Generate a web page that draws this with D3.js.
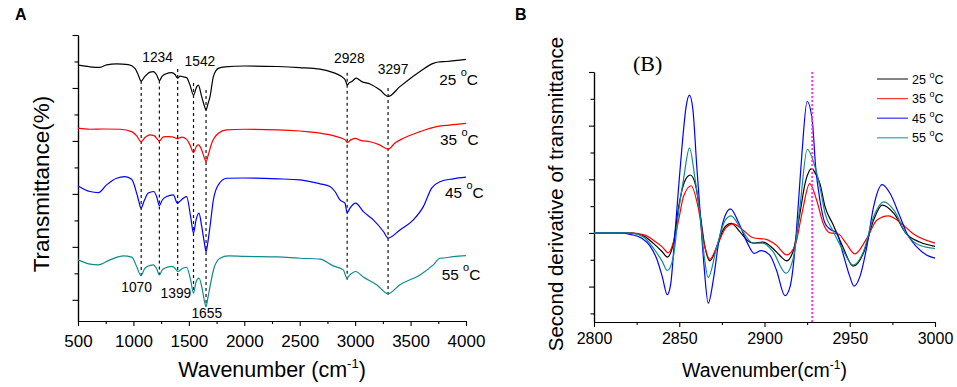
<!DOCTYPE html>
<html>
<head>
<meta charset="utf-8">
<script src="https://cdn.jsdelivr.net/npm/d3@7"></script>
<style>
  body { margin: 0; background: #fff; }
  svg { display: block; font-family: "Liberation Sans", Arial, sans-serif; }
</style>
</head>
<body>
<svg id="canvas" width="957" height="387"></svg>
<script>
// ---- data ----
const temps = ["25", "35", "45", "55"];

// panel A: FTIR spectra, [wavenumber, transmittance (offset, a.u.)]
const ftir25 = [[500,9.86],[608,9.80],[698,9.78],[758,9.87],[848,9.91],[954,9.88],[1014,9.74],[1040,9.53],[1070,9.26],[1100,9.42],[1150,9.60],[1180,9.62],[1210,9.49],[1234,9.28],[1260,9.45],[1290,9.53],[1345,9.58],[1375,9.51],[1399,9.37],[1420,9.45],[1450,9.42],[1480,9.39],[1510,9.11],[1542,8.73],[1570,9.04],[1585,9.11],[1616,8.67],[1640,8.32],[1655,8.17],[1672,8.40],[1691,8.67],[1721,9.43],[1766,9.74],[1826,9.80],[2000,9.83],[2300,9.81],[2500,9.77],[2683,9.71],[2803,9.58],[2870,9.45],[2910,9.30],[2930,9.11],[2945,9.19],[2970,9.24],[3009,9.37],[3060,9.24],[3134,9.15],[3225,8.92],[3297,8.68],[3404,9.05],[3585,9.62],[3705,9.93],[3750,9.98],[3825,10.0],[4000,10.08]];
const ftir35 = [[500,7.48],[608,7.44],[729,7.45],[879,7.44],[984,7.35],[1030,7.19],[1068,6.97],[1110,7.15],[1149,7.23],[1190,7.19],[1234,7.00],[1270,7.15],[1300,7.16],[1350,7.15],[1399,7.09],[1435,7.14],[1480,7.06],[1510,6.85],[1542,6.56],[1570,6.81],[1585,6.85],[1616,6.66],[1640,6.36],[1655,6.22],[1675,6.47],[1706,6.91],[1766,7.29],[1841,7.42],[2000,7.44],[2300,7.42],[2654,7.31],[2833,7.16],[2910,7.04],[2930,6.94],[2960,7.04],[2999,7.10],[3050,7.02],[3134,6.97],[3220,6.85],[3297,6.69],[3360,6.92],[3435,7.10],[3585,7.35],[3735,7.54],[3850,7.60],[4000,7.66]];
const ftir45 = [[500,5.30],[608,5.09],[683,5.05],[758,5.34],[848,5.59],[923,5.65],[984,5.55],[1029,5.03],[1050,4.70],[1068,4.46],[1100,4.77],[1134,5.03],[1183,5.09],[1210,4.89],[1234,4.56],[1260,4.77],[1300,4.90],[1360,4.96],[1396,4.65],[1450,4.84],[1480,4.90],[1516,4.14],[1542,3.52],[1565,4.02],[1591,4.27],[1616,3.77],[1640,3.15],[1655,2.82],[1672,3.19],[1691,3.77],[1721,4.77],[1766,5.34],[1841,5.59],[2000,5.60],[2300,5.57],[2502,5.53],[2683,5.38],[2773,5.28],[2818,5.09],[2863,4.77],[2908,4.65],[2928,4.29],[2953,4.46],[3004,4.65],[3074,4.33],[3164,4.02],[3255,3.58],[3297,3.33],[3404,3.64],[3525,4.02],[3615,4.52],[3690,5.22],[3765,5.46],[3885,5.57],[4000,5.63]];
const ftir55 = [[500,2.51],[608,2.35],[683,2.32],[789,2.51],[909,2.66],[984,2.61],[1029,2.26],[1068,1.91],[1100,2.17],[1125,2.26],[1179,2.32],[1210,2.17],[1234,1.94],[1260,2.13],[1285,2.20],[1345,2.26],[1375,2.19],[1399,2.07],[1450,2.20],[1480,2.23],[1516,1.75],[1542,1.25],[1565,1.68],[1591,1.82],[1622,1.38],[1640,0.96],[1655,0.75],[1672,1.08],[1691,1.50],[1727,2.20],[1781,2.57],[1856,2.66],[2000,2.64],[2300,2.62],[2502,2.57],[2683,2.54],[2803,2.28],[2893,2.13],[2925,1.82],[2953,1.94],[3004,2.07],[3074,1.86],[3194,1.57],[3297,1.23],[3404,1.57],[3585,1.94],[3705,2.32],[3765,2.57],[3800,2.58],[3885,2.63],[4000,2.67]];

// marked bands and the span of their guide lines
const peaks = [1070, 1234, 1399, 1542, 1655, 2928, 3297];
const peakTop = [9.26, 9.28, 9.72, 9.19, 8.92, 9.57, 9.0];
const peakBottom = [1.91, 1.94, 1.75, 1.25, 0.75, 1.75, 1.19];

const ftirTicks = [500, 1000, 1500, 2000, 2500, 3000, 3500, 4000];

// panel B: second derivative, [wavenumber, value]
const deriv25 = [[2800,0],[2820,0],[2826,-0.02],[2830,-0.07],[2835,-0.2],[2840,-0.35],[2843,-0.45],[2846.5,-0.2],[2850,0.55],[2853,0.95],[2856.5,1.08],[2859.5,0.9],[2862.5,0.3],[2865,-0.25],[2868,-0.52],[2871,-0.35],[2874,-0.07],[2877,0.12],[2880.5,0.18],[2885.6,0.02],[2890,-0.14],[2893.4,-0.19],[2899,-0.17],[2905,-0.29],[2909,-0.42],[2913,-0.52],[2917,-0.32],[2920.8,0.37],[2924,0.95],[2927.7,1.2],[2930,1.1],[2932.5,0.92],[2935.5,0.49],[2940,0.17],[2946,-0.26],[2952,-0.62],[2958,-0.38],[2964,0.24],[2969,0.52],[2976,0.36],[2983,-0.01],[2991,-0.17],[3000,-0.25]];
const deriv35 = [[2800,0],[2820,0],[2830,-0.04],[2835,-0.14],[2840,-0.26],[2843.5,-0.37],[2847.5,-0.07],[2850,0.3],[2852.4,0.67],[2857,0.88],[2861,0.49],[2865,-0.26],[2868,-0.49],[2872,-0.26],[2877,0.08],[2881.7,0.17],[2887.5,0.05],[2893.4,-0.09],[2901,-0.12],[2907,-0.23],[2913,-0.41],[2918,-0.23],[2922,0.37],[2926.5,0.92],[2930.6,0.61],[2934.5,0.17],[2938.4,0],[2943.3,-0.02],[2948,-0.2],[2953,-0.39],[2960,-0.1],[2966,0.24],[2972.6,0.32],[2979.5,0.2],[2987,-0.01],[3000,-0.19]];
const deriv45 = [[2800,0],[2815,0],[2822,-0.03],[2828,-0.1],[2833,-0.25],[2837,-0.5],[2840,-0.81],[2843,-1.15],[2845,-0.95],[2847.5,0],[2850,1.0],[2852,1.75],[2854,2.35],[2856,2.57],[2858,2.3],[2860.3,1.23],[2862,0.5],[2864.5,-0.6],[2867,-1.31],[2870,-0.87],[2873,-0.2],[2876,0.24],[2880,0.45],[2885,0.18],[2890,-0.19],[2894,-0.38],[2898,-0.33],[2903,-0.41],[2907,-0.69],[2912,-1.17],[2915,-1.0],[2918,-0.25],[2920,0.61],[2922,1.5],[2925,2.45],[2928,2.1],[2930,1.23],[2932.5,0.61],[2935.5,0.18],[2938.5,0.07],[2942.4,0],[2946,-0.38],[2950,-0.81],[2952.5,-0.99],[2956,-0.81],[2960,-0.26],[2964,0.49],[2969,0.9],[2973.6,0.74],[2979.5,0.3],[2983.4,0],[2989,-0.25],[2995,-0.41],[3000,-0.47]];
const deriv55 = [[2800,0],[2820,0],[2826,-0.03],[2830,-0.1],[2835,-0.29],[2840,-0.53],[2843,-0.7],[2846.5,-0.45],[2850,0.49],[2852.5,1.0],[2856,1.58],[2859.3,1.0],[2862,0.4],[2864.5,-0.4],[2867,-0.83],[2872,-0.26],[2877,0.24],[2880.4,0.32],[2885.6,0.11],[2893.4,-0.19],[2899,-0.19],[2905,-0.35],[2912.6,-0.75],[2917,-0.45],[2920.8,0.49],[2925.1,1.56],[2929,1.3],[2932.5,0.86],[2935.5,0.37],[2940,0.05],[2946,-0.32],[2952,-0.6],[2958,-0.35],[2964,0.3],[2970,0.58],[2976,0.42],[2983,-0.01],[2991,-0.23],[3000,-0.29]];

const derivTicks = [2800, 2850, 2900, 2950, 3000];
const markedBand = 2928;

// ---- styling ----
const colors = ["#000000", "#ff0000", "#0000ff", "#0f8b8d"];

const svg = d3.select('#canvas');
const plain = d3.format('d');

// small helper: number + superscript "o" + "C"
function tempLabel(sel, t, size, supSize, rise) {
  sel.style('font-size', size + 'px');
  sel.append('tspan').text(t + ' ');
  sel.append('tspan').attr('dy', -rise).style('font-size', supSize + 'px').text('o');
  sel.append('tspan').attr('dy', rise).text('C');
}

function styleAxis(g, size) {
  g.attr('font-family', null);
  g.select('.domain').attr('stroke', '#000').attr('stroke-width', 1.2);
  g.selectAll('.tick line').attr('stroke', '#000').attr('stroke-width', 1.1);
  g.selectAll('.tick text').attr('fill', '#000').style('font-size', size + 'px');
}

// ================= panel A =================
const pa = { left: 78, right: 466, top: 35, bottom: 321 };
const xA = d3.scaleLinear().domain([500, 4000]).range([pa.left, pa.right]);
const yA = d3.scaleLinear().domain([0.2, 11]).range([pa.bottom, pa.top]);
const gA = svg.append('g');

gA.append('g').attr('transform', `translate(0,${pa.bottom})`)
  .call(d3.axisBottom(xA).tickValues(d3.range(750, 4000, 500)).tickSize(3).tickFormat('').tickSizeOuter(0))
  .call(g => styleAxis(g, 17));
gA.append('g').attr('transform', `translate(0,${pa.bottom})`)
  .call(d3.axisBottom(xA).tickValues(ftirTicks).tickFormat(plain).tickSize(5).tickPadding(8.5).tickSizeOuter(0))
  .call(g => styleAxis(g, 17));
gA.append('g').attr('transform', `translate(${pa.left},0)`)
  .call(d3.axisLeft(yA).tickValues([2, 4, 6, 8, 10]).tickSize(3.5).tickFormat('').tickSizeOuter(0))
  .call(g => styleAxis(g, 17));
gA.append('g').attr('transform', `translate(${pa.left},0)`)
  .call(d3.axisLeft(yA).tickValues([1, 3, 5, 7, 9, 11]).tickSize(5.5).tickFormat('').tickSizeOuter(0))
  .call(g => styleAxis(g, 17));

const lineA = d3.line().x(d => xA(d[0])).y(d => yA(d[1])).curve(d3.curveMonotoneX);
const ftir = [ftir25, ftir35, ftir45, ftir55];

gA.append('g').selectAll('line')
  .data(peaks)
  .join('line')
  .attr('x1', d => xA(d)).attr('x2', d => xA(d))
  .attr('y1', (d, i) => yA(peakTop[i]))
  .attr('y2', (d, i) => yA(peakBottom[i]))
  .attr('stroke', '#111').attr('stroke-width', 1.2)
  .attr('stroke-dasharray', '3,3');

gA.append('g').selectAll('path')
  .data(ftir)
  .join('path')
  .attr('d', lineA)
  .attr('fill', 'none')
  .attr('stroke', (d, i) => colors[i])
  .attr('stroke-width', 1.2);

// band labels: which end of the guide and nudge in px
const peakLabelLayout = [
  { end: 'bottom', dx: -4.6, dy: 16.7 },
  { end: 'top', dx: -1.8, dy: -18.6 },
  { end: 'bottom', dx: -1.7, dy: 18.3 },
  { end: 'top', dx: 6.4, dy: -17 },
  { end: 'bottom', dx: 0.7, dy: 11.3 },
  { end: 'top', dx: 2.2, dy: -9.6 },
  { end: 'top', dx: 5, dy: -14 },
];
gA.append('g').selectAll('text')
  .data(peaks)
  .join('text')
  .attr('x', (d, i) => xA(d) + peakLabelLayout[i].dx)
  .attr('y', (d, i) => yA(peakLabelLayout[i].end === 'top' ? peakTop[i] : peakBottom[i]) + peakLabelLayout[i].dy)
  .attr('text-anchor', 'middle')
  .style('font-size', '13.8px')
  .text(d => d);

// temperature tags at the right end of each spectrum
const tagNudge = [[-26.7, 25.5], [-26, 21.5], [-21, 21], [-24.3, 24.3]];
ftir.forEach((s, i) => {
  const last = s[s.length - 1];
  gA.append('text')
    .attr('x', xA(last[0]) + tagNudge[i][0])
    .attr('y', yA(last[1]) + tagNudge[i][1])
    .call(t => tempLabel(t, temps[i], 15.4, 11, 9));
});

gA.append('text')
  .attr('transform', 'translate(48.5,184) rotate(-90)')
  .attr('text-anchor', 'middle')
  .style('font-size', '22.5px')
  .text('Transmittance(%)');

const xtA = gA.append('text')
  .attr('x', (pa.left + pa.right) / 2).attr('y', 376.7)
  .attr('text-anchor', 'middle')
  .style('font-size', '21.5px');
xtA.append('tspan').text('Wavenumber (cm');
xtA.append('tspan').attr('dy', -9).style('font-size', '13px').text('-1');
xtA.append('tspan').attr('dy', 9).text(')');

gA.append('text').attr('x', 15).attr('y', 20)
  .style('font-size', '16px').style('font-weight', 'bold').text('A');

// ================= panel B =================
const pb = { left: 594, right: 935, top: 72, bottom: 322 };
const xB = d3.scaleLinear().domain([2800, 3000]).range([pb.left, pb.right]);
const yB = d3.scaleLinear().domain([-1.66, 3]).range([pb.bottom, pb.top]);
const gB = svg.append('g');

gB.append('g').attr('transform', `translate(0,${pb.bottom})`)
  .call(d3.axisBottom(xB).tickValues([2825, 2875, 2925, 2975]).tickSize(3).tickFormat('').tickSizeOuter(0))
  .call(g => styleAxis(g, 16));
gB.append('g').attr('transform', `translate(0,${pb.bottom})`)
  .call(d3.axisBottom(xB).tickValues(derivTicks).tickFormat(plain).tickSize(5).tickPadding(5.5).tickSizeOuter(0))
  .call(g => styleAxis(g, 16));
gB.append('g').attr('transform', `translate(${pb.left},0)`)
  .call(d3.axisLeft(yB).tickValues([-1.5, -0.5, 0.5, 1.5, 2.5]).tickSize(3.5).tickFormat('').tickSizeOuter(0))
  .call(g => styleAxis(g, 16));
gB.append('g').attr('transform', `translate(${pb.left},0)`)
  .call(d3.axisLeft(yB).tickValues([-1, 0, 1, 2, 3]).tickSize(5).tickFormat('').tickSizeOuter(0))
  .call(g => styleAxis(g, 16));

const lineB = d3.line().x(d => xB(d[0])).y(d => yB(d[1])).curve(d3.curveMonotoneX);

gB.append('g').selectAll('path')
  .data([deriv25, deriv35, deriv45, deriv55])
  .join('path')
  .attr('d', lineB)
  .attr('fill', 'none')
  .attr('stroke', (d, i) => colors[i])
  .attr('stroke-width', 1.2);

gB.append('line')
  .attr('x1', xB(markedBand)).attr('x2', xB(markedBand))
  .attr('y1', yB(3)).attr('y2', yB(-1.66))
  .attr('stroke', '#f03cf0').attr('stroke-width', 2)
  .attr('stroke-dasharray', '2,2');

// legend
const leg = gB.append('g').attr('transform', 'translate(877,79)');
temps.forEach((t, i) => {
  const row = leg.append('g').attr('transform', `translate(0,${i * 19.6})`);
  row.append('line').attr('x1', 0).attr('x2', 31)
    .attr('stroke', colors[i]).attr('stroke-width', 1.3).attr('opacity', 0.75);
  row.append('text').attr('x', 35).attr('y', 4.5)
    .call(s => tempLabel(s, t, 12.5, 9, 6));
});

gB.append('text').attr('x', 633).attr('y', 71)
  .style('font-family', '"Liberation Serif", "Times New Roman", serif')
  .style('font-size', '22px')
  .text('(B)');

gB.append('text')
  .attr('transform', 'translate(563,194) rotate(-90)')
  .attr('text-anchor', 'middle')
  .style('font-size', '20.5px')
  .text('Second derivative of transmittance');

const xtB = gB.append('text')
  .attr('x', (pb.left + pb.right) / 2).attr('y', 376.7)
  .attr('text-anchor', 'middle')
  .style('font-size', '19.5px');
xtB.append('tspan').text('Wavenumber(cm');
xtB.append('tspan').attr('dy', -8).style('font-size', '12px').text('-1');
xtB.append('tspan').attr('dy', 8).text(')');

gB.append('text').attr('x', 515).attr('y', 19.5)
  .style('font-size', '16px').style('font-weight', 'bold').text('B');
</script>
</body>
</html>
